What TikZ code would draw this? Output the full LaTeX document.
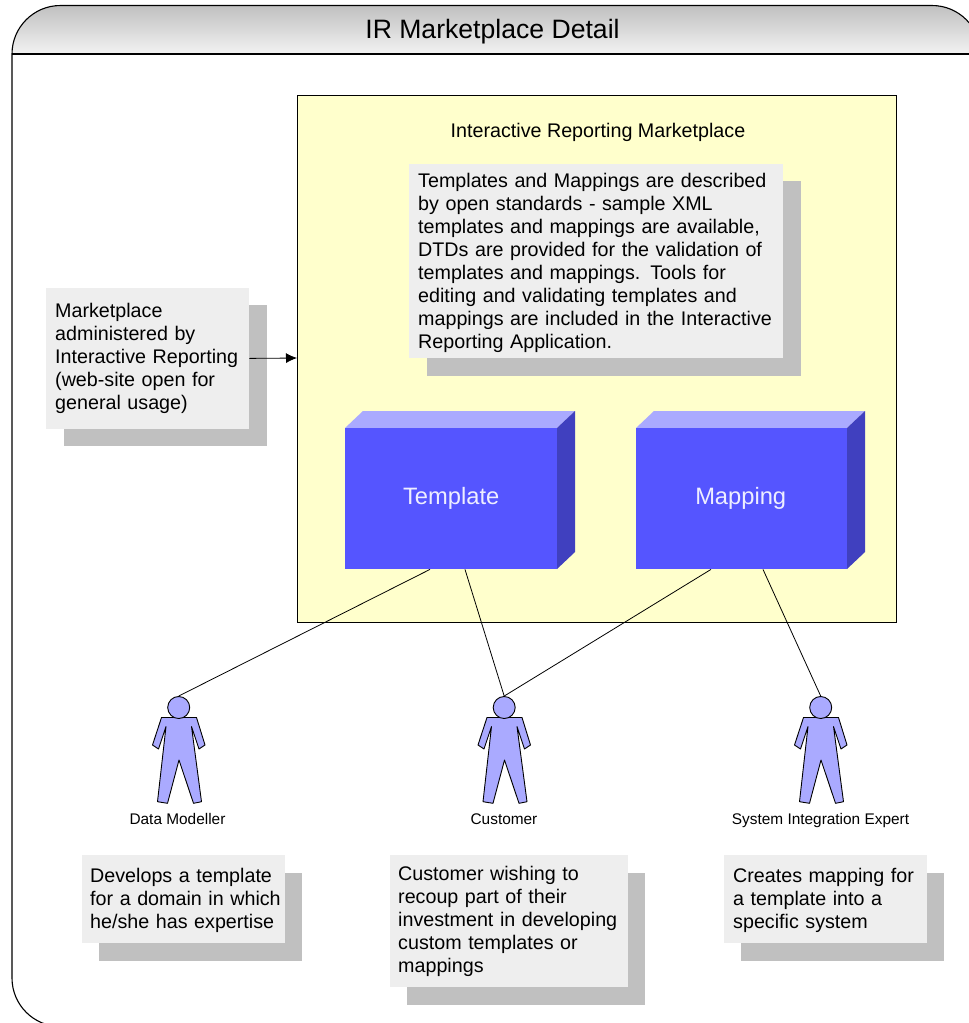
\documentclass[tikz,border=0pt]{standalone}
\usepackage{fontspec}
\setmainfont{Liberation Sans}
\usetikzlibrary{arrows.meta,calc}
\definecolor{noteFill}{HTML}{EEEEEE}
\definecolor{noteShadow}{HTML}{C0C0C0}
\definecolor{panelFill}{HTML}{FFFFCC}
\definecolor{boxFront}{HTML}{5555FF}
\definecolor{boxTop}{HTML}{AAAAFF}
\definecolor{boxSide}{HTML}{4040BF}
\definecolor{actorFill}{HTML}{AAAAFF}
\newcommand{\notefont}{\fontsize{19.7}{23}\selectfont}
\tikzset{
  x=1pt,y=-1pt,
  note/.style={anchor=north west,fill=noteFill,draw=none,align=left,inner sep=0pt,font=\notefont,text=black},
  noteshade/.style={fill=noteShadow,draw=none},
  block/.style={anchor=north west,fill=boxFront,draw=none,inner sep=0pt,minimum width=212pt,minimum height=141pt,text=white!90!boxFront,font=\fontsize{23.7}{27}\selectfont},
  actorbody/.style={fill=actorFill,draw=black,line width=0.9pt,line join=round},
  head/.style={circle,fill=actorFill,draw=black,line width=0.9pt,minimum size=22pt,inner sep=0pt},
  actorlabel/.style={anchor=base,font=\fontsize{15.4}{18}\selectfont,text=black,inner sep=0pt},
  link/.style={draw=black,line width=0.8pt},
}
\newcommand{\actorshape}[1]{%
  \draw[actorbody,shift={(#1,680)}]
    (31.5,37.5) -- (66.5,37.5) -- (75,65) -- (69,69) -- (61.5,46.5) -- (71.5,121.7) -- (63.5,123.3)
    -- (49,80) -- (37.5,123.3) -- (27.5,121.7) -- (36,46.5) -- (28.5,69) -- (22.5,65) -- cycle;}
\begin{document}
\begin{tikzpicture}
\useasboundingbox (0,0) rectangle (969,1023);
\clip (0,0) rectangle (969,1023);
% frame
\begin{scope}
  \clip (12,54) arc[start angle=180,end angle=270,radius=48.5] -- (932,5.5) arc[start angle=270,end angle=360,radius=48.5] -- cycle;
  \shade[top color=noteShadow,bottom color=white!95!black] (0,5.5) rectangle (1000,54);
\end{scope}
\draw[black,line width=1.1pt] (12,54) arc[start angle=180,end angle=270,radius=48.5] -- (932,5.5) arc[start angle=270,end angle=360,radius=48.5];
\draw[black,line width=1.1pt] (12,54) -- (1000,54);
\draw[black,line width=1.1pt] (12,54) -- (12,978) arc[start angle=180,end angle=90,radius=48.5];
\node[inner sep=0pt,font=\fontsize{26.6}{30}\selectfont] (title) at (492.5,32) {IR Marketplace Detail};
% panel
\node[anchor=north west,fill=panelFill,draw=black,line width=0.9pt,inner sep=0pt,minimum width=598.5pt,minimum height=527.5pt] (panel) at (297,94.5) {};
\node[inner sep=0pt,font=\fontsize{19.7}{23}\selectfont] (paneltitle) at (598,132.5) {Interactive Reporting Marketplace};
% description note
\fill[noteshade] (427,181) rectangle (801,376);
\node[note,minimum width=374pt,minimum height=194pt,text width=356pt] (desc) at (409,164) {\rule{0pt}{18pt}Templates and Mappings are described\\by open standards - sample XML\\templates and mappings are available,\\DTDs are provided for the validation of\\templates and mappings. Tools for\\editing and validating templates and\\mappings are included in the Interactive\\Reporting Application.};
% admin note
\fill[noteshade] (64,305) rectangle (267,446);
\node[note,minimum width=203pt,minimum height=141pt,text width=185pt] (admin) at (46,288) {Marketplace\\administered by\\Interactive Reporting\\(web-site open for\\general usage)};
% blocks
\fill[boxTop] (345,428) -- (363,411) -- (575,411) -- (557,428) -- cycle;
\fill[boxSide] (557,428) -- (575,411) -- (575,552) -- (557,569) -- cycle;
\node[block] (template) at (345,428) {Template};
\fill[boxTop] (636,428) -- (654,411) -- (865,411) -- (847,428) -- cycle;
\fill[boxSide] (847,428) -- (865,411) -- (865,552) -- (847,569) -- cycle;
\node[block,minimum width=211pt] (mapping) at (636,428) {\hspace*{-2pt}Mapping};
% actors
\actorshape{130}
\actorshape{455.5}
\actorshape{772}
\node[head] (modeller) at (178.7,707.5) {};
\node[head] (customer) at (504.2,707.5) {};
\node[head] (expert) at (820.7,707.5) {};
\node[actorlabel] (modellerlabel) at (177.5,824) {Data Modeller};
\node[actorlabel] (customerlabel) at (504,824) {Customer};
\node[actorlabel] (expertlabel) at (820.5,824) {System Integration Expert};
% bottom notes
\fill[noteshade] (99,873) rectangle (302,961);
\node[note,minimum width=203pt,minimum height=88pt,text width=187pt] (modellernote) at (82,855) {\rule{0pt}{16pt}Develops a template\\\mbox{for a domain in which}\\he/she has expertise};
\fill[noteshade] (407,873) rectangle (645,1005);
\node[note,minimum width=238pt,minimum height=132pt,text width=222pt] (customernote) at (390,855) {Customer wishing to\\recoup part of their\\investment in developing\\custom templates or\\mappings};
\fill[noteshade] (741,873) rectangle (944,961);
\node[note,minimum width=203pt,minimum height=88pt,text width=185pt] (expertnote) at (724,855) {\rule{0pt}{16pt}Creates mapping for\\a template into a\\specific system};
% connectors
\draw[link] ($(template.south west)+(85,0)$) -- (modeller.north);
\draw[link] ($(template.south west)+(120,0)$) -- (customer.north);
\draw[link] ($(mapping.south west)+(75,0)$) -- (customer.north);
\draw[link] ($(mapping.south west)+(127,0)$) -- (expert.north);
\draw[link,-{Latex[length=11pt,width=10pt]}] ($(admin.south east)+(0,-71)$) -- ($(panel.north west)+(0,263.5)$);
\end{tikzpicture}
\end{document}
